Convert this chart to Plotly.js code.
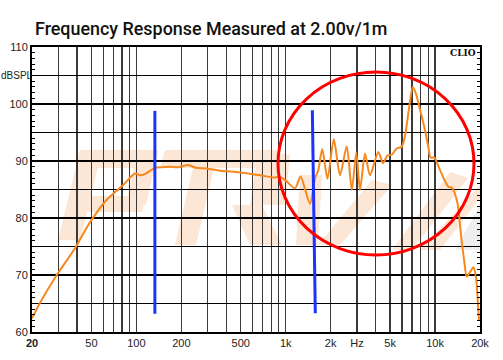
<!DOCTYPE html>
<html>
<head>
<meta charset="utf-8">
<script src="https://cdn.plot.ly/plotly-3.0.1.min.js"></script>
<style>
html,body{margin:0;padding:0;background:#fff;}
#chart{width:503px;height:360px;}
</style>
</head>
<body>
<div id="chart"></div>
<script>
// Frequency response (Hz, dB SPL)
const freqHz = [20, 22.6, 29.3, 38.8, 47.7, 63.3, 81.7, 97.9, 105.7, 114, 133, 150, 168, 190, 222.7, 250, 296, 363, 494, 673, 826, 916, 989, 1154, 1256, 1454, 1571, 1653, 1756, 1904, 2099, 2310, 2562, 2770, 2970, 3144, 3396, 3668, 4168, 4482, 4806, 5127, 5536, 5980, 6292, 6674, 7096, 7456, 7931, 8434, 9013, 9326, 9886, 10796, 12270, 12988, 14142, 14926, 15706, 16296, 17140, 18092, 18802, 19302, 19694];
const splDb  = [62.4, 65.1, 70.0, 74.7, 78.8, 83.2, 85.8, 87.8, 87.5, 87.7, 88.8, 88.9, 89.0, 88.9, 89.3, 88.8, 88.7, 88.3, 88.0, 87.5, 87.1, 87.2, 86.7, 85.2, 87.3, 82.5, 87.0, 88.4, 92.1, 86.9, 93.8, 87.5, 92.6, 84.9, 91.5, 84.9, 91.3, 87.5, 91.6, 89.6, 91.0, 91.1, 92.2, 92.5, 94.4, 99.0, 103.0, 101.8, 99.0, 96.2, 92.5, 90.6, 90.6, 88.4, 85.5, 85.3, 82.6, 77.0, 72.3, 69.7, 70.5, 71.35, 69.6, 65.6, 62.1];

// Blue marker lines (start / end points)
const marker1Hz = [133, 133];
const marker1Db = [98.8, 63.2];
const marker2Hz = [1508, 1578];
const marker2Db = [98.9, 63.3];

// Axis ticks
const xGridVals = [20,30,40,50,60,70,80,90,100,200,300,400,500,600,700,800,900,1000,2000,3000,4000,5000,6000,7000,8000,9000,10000,20000];
const xLabelMap = {20:'<b>20</b>',50:'50',100:'100',200:'200',500:'500',1000:'1k',2000:'2k',3000:'Hz',5000:'5k',10000:'10k',20000:'20k'};
const xGridText = xGridVals.map(v => xLabelMap[v] || '');
const yTickVals = [60,65,70,75,80,85,90,95,100,105,110];
const yTickText = ['60','','70','','80','','90','','100','','110'];
const yUnitLabel = 'dBSPL';
const yUnitAt = 105;

// plot area in pixels: x 32..480, y 47..332
const L = 32, R = 480, T = 47, B = 332;
const px = x => (x - L) / (R - L);
const py = y => (B - y) / (B - T);
function poly(pts, color) {
  let d = pts.map((p, i) => (i ? 'L' : 'M') + px(p[0]).toFixed(4) + ',' + py(p[1]).toFixed(4)).join(' ') + ' Z';
  return {type:'path', xref:'paper', yref:'paper', path:d, fillcolor:color, line:{width:0}, layer:'below'};
}
const wm = '#FCE6D6', wmg = '#EEEEEE';
const shapes = [
  // faint logo watermark (approximate)
  poly([[58,240],[80,240],[102,150],[80,150]], wm),
  poly([[80,150],[158,150],[153,168],[76,168]], wm),
  poly([[138,150],[158,150],[146,205],[126,205]], wm),
  poly([[75,196],[146,196],[142,212],[71,212]], wm),
  poly([[165,150],[278,150],[273,168],[160,168]], wm),
  poly([[193,168],[214,168],[196,245],[175,245]], wm),
  poly([[258,150],[290,155],[285,205],[250,205]], wm),
  poly([[232,205],[262,205],[282,245],[250,245]], wm),
  poly([[300,175],[322,175],[318,245],[296,245]], wm),
  poly([[318,245],[340,245],[392,185],[372,180]], wm),
  poly([[392,250],[412,250],[468,178],[450,172]], wm),
  poly([[420,250],[440,250],[480,198],[480,185]], wm),
  poly([[455,250],[480,250],[480,205]], wmg),
  // red ellipse
  {type:'circle', xref:'paper', yref:'paper', x0:px(278), x1:px(474), y0:py(255), y1:py(72),
   line:{color:'#FF0000', width:3}, layer:'above'}
];

const traces = [
  {x:freqHz, y:splDb, type:'scatter', mode:'lines', line:{color:'#F7881E', width:2, shape:'spline', smoothing:0.7}, hoverinfo:'skip'},
  {x:marker1Hz, y:marker1Db, type:'scatter', mode:'lines', line:{color:'#1A33FF', width:3}, hoverinfo:'skip'},
  {x:marker2Hz, y:marker2Db, type:'scatter', mode:'lines', line:{color:'#1A33FF', width:3}, hoverinfo:'skip'}
];

const layout = {
  width:503, height:360,
  margin:{l:L, r:503-R, t:T, b:360-B, pad:0},
  paper_bgcolor:'#ffffff', plot_bgcolor:'rgba(0,0,0,0)',
  showlegend:false,
  title:{text:'Frequency Response Measured at 2.00v/1m', x:35/503, xanchor:'left', xref:'container',
         y:1-29/360, yanchor:'middle', yref:'container',
         font:{family:'Roboto, Arial, sans-serif', size:17.9, color:'#111', weight:500}},
  xaxis:{type:'log', range:[Math.log10(20), Math.log10(20000)], tickmode:'array', tickvals:xGridVals, ticktext:xGridText,
         showgrid:true, gridcolor:'#3a3a3a', gridwidth:1.2, ticks:'', showline:true, linecolor:'#000', linewidth:2, mirror:true,
         tickfont:{family:'Liberation Sans, Arial, sans-serif', size:11, color:'#222'}, zeroline:false, fixedrange:true},
  yaxis:{range:[60,110], tickmode:'array', tickvals:yTickVals, ticktext:yTickText,
         showgrid:true, gridcolor:'#000', gridwidth:1.2, ticks:'inside', ticklen:4, tickcolor:'#000',
         minor:{tickmode:'linear', tick0:60, dtick:1, ticks:'inside', ticklen:3, tickcolor:'#000', showgrid:false},
         showline:true, linecolor:'#000', linewidth:2, mirror:'allticks',
         tickfont:{family:'Liberation Sans, Arial, sans-serif', size:11, color:'#222'}, zeroline:false, fixedrange:true},
  shapes:shapes,
  annotations:[
    {text:'<b>CLIO</b>', xref:'paper', yref:'paper', x:px(478), y:py(53), xanchor:'right', yanchor:'middle', showarrow:false,
     font:{family:'DejaVu Serif, Liberation Serif, serif', size:9, color:'#111'}},
    {text:yUnitLabel, xref:'paper', yref:'y', x:px(0), y:yUnitAt, xanchor:'left', yanchor:'middle', showarrow:false,
     borderpad:0, font:{family:'Liberation Sans, Arial, sans-serif', size:10, color:'#222'}}
  ]
};

Plotly.newPlot('chart', traces, layout, {staticPlot:true, displayModeBar:false});
</script>
</body>
</html>
